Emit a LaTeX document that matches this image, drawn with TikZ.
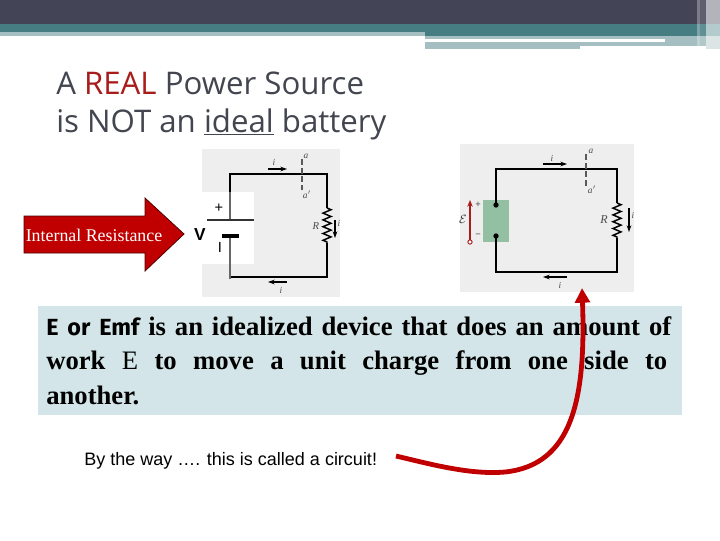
\documentclass[tikz,border=0pt]{standalone}
\usepackage{fontspec}
\setmainfont{Liberation Serif}
\newfontfamily\titlefont{Open Sans}
\newfontfamily\armfont{Liberation Sans}
\newfontfamily\emffont{Fira Sans}
\usetikzlibrary{arrows.meta,decorations.pathmorphing}
\definecolor{slatedark}{HTML}{434456}
\definecolor{tealband}{HTML}{457D83}
\definecolor{tealpale}{HTML}{A4BEC1}
\definecolor{panelblue}{HTML}{D3E5E8}
\definecolor{photogrey}{HTML}{EEEEEE}
\definecolor{realred}{HTML}{A81C1C}
\definecolor{titlegrey}{HTML}{43454F}
\definecolor{arrowred}{HTML}{C00000}
\definecolor{boxgreen}{HTML}{93BFA3}
\tikzset{
  x=0.75pt,y=-0.75pt,
  wire/.style={line width=1.4pt,black},
  thinwire/.style={line width=0.8pt,black!60},
  gap/.style={line width=1.1pt,black!65,dash pattern=on 4.5pt off 2pt},
  small/.style={font=\fontsize{7}{7}\selectfont\itshape,text=black!70,inner sep=0},
  cur/.style={line width=0.8pt,black,-{Stealth[length=5pt,width=3.5pt]}},
  coil/.style={line width=1.1pt,black,decorate,decoration={zigzag,amplitude=3pt,segment length=5.1pt}},
}
\begin{document}
\begin{tikzpicture}
\useasboundingbox (0,0) rectangle (720,540);
\fill[white] (0,0) rectangle (720,540);
% header bands
\fill[tealpale] (0,32) rectangle (425,36);
\fill[tealband] (0,24) rectangle (720,32);
\fill[tealband] (425,32) rectangle (720,36);
\fill[tealpale] (425,36) rectangle (706,39);
\fill[white] (425,39) rectangle (665,42);
\fill[tealpale] (425,42) rectangle (706,46);
\fill[tealpale] (425,46) rectangle (580,49);
\fill[tealpale] (665,39) rectangle (706,46);
\fill[tealpale!40] (706,36) rectangle (720,49);
\fill[slatedark] (0,0) rectangle (720,24);
% header stripes at right
\fill[white,opacity=.6] (706,0) rectangle (720,36);
\fill[white,opacity=.3] (697,0) rectangle (700,46);
\fill[white,opacity=.15] (700,0) rectangle (706,46);
% title
\node[anchor=base west,inner sep=0,font=\titlefont\fontsize{23.4}{23.4}\selectfont,text=titlegrey] (title1) at (56,94) {A \textcolor{realred}{REAL} Power Source};
\node[anchor=base west,inner sep=0,font=\titlefont\fontsize{23.4}{23.4}\selectfont,text=titlegrey] (title2) at (56,132) {is NOT an \underline{ideal} battery};
% left photo
\fill[photogrey] (202,149) rectangle (340,297);
\fill[white] (202,192) rectangle (254,264);
\draw[wire] (230,192) -- (230,174) -- (327,174) -- (327,208);
\draw[wire] (327,243) -- (327,277) -- (230,277) -- (230,264);
\draw[thinwire] (230,192) -- (230,220);
\draw[thinwire] (230,236) -- (230,279);
\draw[line width=0.9pt,black!80] (207,220) -- (254,220);
\draw[line width=3pt,black] (222,236) -- (239,236);
\draw[coil] (327,208) -- (327,243);
\draw[gap] (302,159) -- (302,190);
\draw[cur] (268,169) -- (287,169);
\draw[cur] (287,282) -- (268,282);
\draw[cur] (335,220) -- (335,238);
\node[small] (la1) at (306,156) {a};
\node[small] (la2) at (307,195) {a$'$};
\node[small] (li1) at (274,162) {i};
\node[small] (li2) at (281,290) {i};
\node[small] (li3) at (339,223) {i};
\node[small,font=\fontsize{8}{8}\selectfont\itshape] (lr) at (316,226) {R};
\node[inner sep=0,font=\armfont\fontsize{11}{11}\selectfont] (plus) at (219,208) {+};
\node[inner sep=0,font=\armfont\bfseries\fontsize{13}{13}\selectfont] (vee) at (200,235) {V};
\node[inner sep=0,font=\armfont\fontsize{11}{11}\selectfont] (eye) at (220,247) {I};
% right photo
\fill[photogrey] (460,144) rectangle (634,292);
\fill[boxgreen] (483,200) rectangle (509,242);
\draw[wire] (496,205) -- (496,169) -- (617,169) -- (617,203);
\draw[wire] (617,238) -- (617,272) -- (496,272) -- (496,236);
\fill (496,205) circle (2pt);
\fill (496,236) circle (2pt);
\draw[coil] (617,203) -- (617,238);
\draw[gap] (586,154) -- (586,186);
\draw[cur] (543,164) -- (567,164);
\draw[cur] (567,277) -- (543,277);
\draw[cur] (629,208) -- (629,232);
\draw[line width=0.9pt,realred,-{Stealth[length=5pt,width=4pt]}] (470,241) -- (470,200);
\draw[line width=0.7pt,realred,fill=white] (470,242) circle (1.6pt);
\node[small] (ra1) at (591,151) {a};
\node[small] (ra2) at (592,190) {a$'$};
\node[small] (ri1) at (552,158) {i};
\node[small] (ri2) at (560,285) {i};
\node[small] (ri3) at (633,215) {i};
\node[small,font=\fontsize{9}{9}\selectfont\itshape] (rr) at (604,220) {R};
\node[inner sep=0,font=\armfont\fontsize{7}{7}\selectfont,text=black!70] (rplus) at (478,205) {+};
\node[inner sep=0,font=\armfont\fontsize{7}{7}\selectfont,text=black!70] (rminus) at (478,236) {−};
\node[inner sep=0,font=\fontsize{9}{9}\selectfont,text=black!80] (emf) at (463,219) {$\mathcal{E}$};
% panel
\fill[panelblue] (38,306) rectangle (682,415);
\node[anchor=north west,inner sep=0,text width=621*0.75pt,font=\bfseries\fontsize{20}{26}\selectfont,align=left] (body) at (46,316) {%
\hbox to \linewidth{{\emffont\fontsize{17.5}{17.5}\selectfont E or Emf} is an idealized device that does an amount of}
\hbox to \linewidth{work\hfil {\mdseries E}\hfil to\hfil move\hfil a\hfil unit\hfil charge\hfil from\hfil one\hfil side\hfil to}
\hbox{another.}};
% caption
\node[anchor=base west,inner sep=0,font=\armfont\fontsize{13.5}{13.5}\selectfont] (cap) at (84,465) {By the way …. this is called a circuit!};
% internal resistance arrow
\draw[fill=arrowred,draw=black!60!arrowred,line width=.6pt] (24,216) -- (145,216) -- (145,198) -- (184,234) -- (145,271) -- (145,253) -- (24,253) -- cycle;
\node[inner sep=0,font=\fontsize{13.4}{13.4}\selectfont,text=white] (ir2) at (94,235) {Internal Resistance};
% curved arrow
\coordinate (cstart) at (396,456);
\coordinate (cend) at (582,288);
\draw[line width=3.6pt,arrowred,-{Triangle[length=11pt,width=11pt]}] (cstart) .. controls (430,464) and (470,475) .. (505,472) .. controls (572,465) and (586,400) .. (cend);
\end{tikzpicture}
\end{document}
